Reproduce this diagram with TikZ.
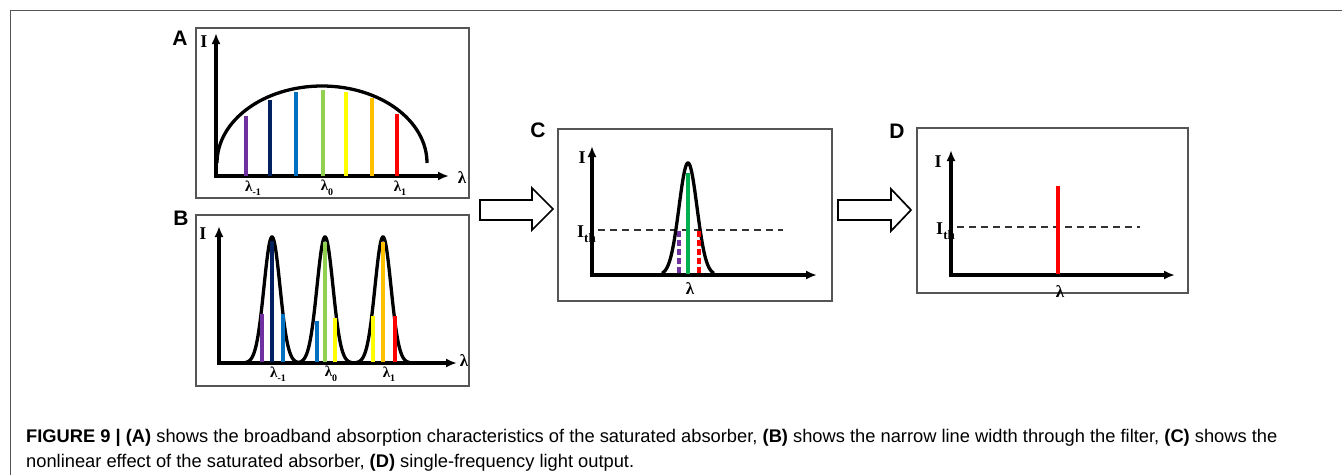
\documentclass[tikz,border=0pt]{standalone}
\usepackage{fontspec}
\setmainfont{Liberation Serif}
\newfontfamily\capfont{Liberation Sans}
\usetikzlibrary{arrows.meta}
\definecolor{cpurple}{HTML}{7030A0}
\definecolor{cnavy}{HTML}{002060}
\definecolor{cblue}{HTML}{0070C0}
\definecolor{cgreen}{HTML}{92D050}
\definecolor{cyellow}{HTML}{FFFF00}
\definecolor{corange}{HTML}{FFC000}
\definecolor{cred}{HTML}{FF0000}
\definecolor{cgreenC}{HTML}{00B050}
\definecolor{framegray}{HTML}{555555}
\newcommand{\lsub}[1]{\raisebox{-0.3em}{\fontsize{10}{10}\selectfont #1}}
\newcommand{\thsub}{\raisebox{-0.3em}{\fontsize{13}{13}\selectfont th}}
\begin{document}
\begin{tikzpicture}[x=1pt,y=-1pt,
  panel/.style={draw=framegray, line width=1.6pt},
  axes/.style={line width=3.6pt, line join=miter, {Latex[length=11pt,width=9pt]}-{Latex[length=11pt,width=9pt]}},
  curve/.style={line width=3.3pt, black},
  spec/.style={line width=3.6pt},
  dspec/.style={line width=3.2pt, dash pattern=on 6pt off 3pt},
  thr/.style={line width=1.8pt, black!80, dash pattern=on 7pt off 5pt},
  blockarrow/.style={draw=black, line width=1.7pt, fill=white, line join=miter},
  plab/.style={font=\capfont\bfseries\fontsize{21}{21}\selectfont, inner sep=0pt},
  alab/.style={font=\bfseries\fontsize{18}{18}\selectfont, inner sep=0pt},
  llab/.style={font=\bfseries\fontsize{15}{15}\selectfont, inner sep=0pt},
  xlab/.style={font=\bfseries\fontsize{17}{17}\selectfont, inner sep=0pt},
  caption/.style={font=\capfont\fontsize{18.3}{18.3}\selectfont, inner sep=0pt, anchor=base west}
]
\useasboundingbox (0,0) rectangle (1342,475);
% outer frame
\draw[framegray, line width=1pt] (10,475) -- (10,10) -- (1342,10);

% ---------- Panel A ----------
\node[plab] (labA) at (180,38) {A};
\draw[panel] (196,28) rectangle (469,198);
\coordinate (Aorig) at (216,176);
\coordinate (Atop) at (216,33);
\coordinate (Aright) at (449,176);
\draw[axes] (Atop) -- (Aorig) -- (Aright);
\node[alab] (AI) at (204,42) {I};
\node[xlab] (Alam) at (462,178) {λ};
\draw[curve] (217,163) arc[start angle=180, end angle=0, x radius=105pt, y radius=77pt];
\draw[spec, cpurple] (246,176) -- (246,116);
\draw[spec, cnavy]   (270,176) -- (270,100);
\draw[spec, cblue]   (296,176) -- (296,92);
\draw[spec, cgreen]  (323,176) -- (323,90);
\draw[spec, cyellow] (346,176) -- (346,92);
\draw[spec, corange] (372,176) -- (372,98);
\draw[spec, cred]    (397,176) -- (397,114);
\node[llab] (Al1) at (253,188) {λ\lsub{-1}};
\node[llab] (Al0) at (327,188) {λ\lsub{0}};
\node[llab] (Al2) at (400,188) {λ\lsub{1}};

% ---------- Panel B ----------
\node[plab] (labB) at (181,218) {B};
\draw[panel] (196,215) rectangle (469,386);
\coordinate (Borig) at (219,363);
\coordinate (Btop) at (219,226);
\coordinate (Bright) at (457,363);
\draw[axes] (Btop) -- (Borig) -- (Bright);
\node[alab] (BI) at (203,234) {I};
\node[xlab] (Blam) at (464,361) {λ};
\foreach \c in {272,325,383}{
  \draw[curve] plot[domain=-27:27, samples=80, smooth] ({\c+\x},{363-126*exp(-(\x*\x)/(2*64))});
}
\draw[spec, cpurple] (262,362) -- (262,314);
\draw[spec, cnavy]   (272,362) -- (272,241);
\draw[spec, cblue]   (283,362) -- (283,314);
\draw[spec, cblue]   (317,362) -- (317,321);
\draw[spec, cgreen]  (325,362) -- (325,242);
\draw[spec, cyellow] (335,362) -- (335,318);
\draw[spec, cyellow] (373,362) -- (373,316);
\draw[spec, corange] (383,362) -- (383,242);
\draw[spec, cred]    (395,362) -- (395,316);
\node[llab] (Bl1) at (278,374) {λ\lsub{-1}};
\node[llab] (Bl0) at (331,374) {λ\lsub{0}};
\node[llab] (Bl2) at (389,374) {λ\lsub{1}};

% ---------- Arrow 1 ----------
\draw[blockarrow] (480,200) -- (532,200) -- (532,188) -- (553,209) -- (532,230) -- (532,220) -- (480,220) -- cycle;

% ---------- Panel C ----------
\node[plab] (labC) at (538,130) {C};
\draw[panel] (558,129) rectangle (832,301);
\coordinate (Corig) at (592,275);
\coordinate (Ctop) at (592,146);
\coordinate (Cright) at (817,275);
\draw[axes] (Ctop) -- (Corig) -- (Cright);
\node[alab] (CI) at (582,158) {I};
\node[alab, anchor=east] (CIth) at (596,234) {I\thsub};
\draw[thr] (598,230) -- (783,230);
\draw[curve] plot[domain=-26:26, samples=80, smooth] ({688+\x},{275-112*exp(-(\x*\x)/(2*81))});
\draw[spec, cgreenC] (688,274) -- (688,173);
\draw[dspec, cpurple] (679,231) -- (679,274);
\draw[dspec, cred] (699,231) -- (699,274);
\node[xlab] (Clam) at (690,289) {λ};

% ---------- Arrow 2 ----------
\draw[blockarrow] (838,200) -- (891,200) -- (891,189) -- (911,210) -- (891,231) -- (891,220) -- (838,220) -- cycle;

% ---------- Panel D ----------
\node[plab] (labD) at (897,131) {D};
\draw[panel] (917,128) rectangle (1188,293);
\coordinate (Dorig) at (951,275);
\coordinate (Dtop) at (951,150);
\coordinate (Dright) at (1175,275);
\draw[axes] (Dtop) -- (Dorig) -- (Dright);
\node[alab] (DI) at (938,162) {I};
\node[alab, anchor=east] (DIth) at (955,231) {I\thsub};
\draw[thr] (957,227) -- (1140,227);
\draw[spec, cred] (1058,274) -- (1058,186);
\node[xlab] (Dlam) at (1060,292) {λ};

% ---------- Caption ----------
\node[caption] (cap1) at (26,442) {\textbf{FIGURE 9 | (A)} shows the broadband absorption characteristics of the saturated absorber, \textbf{(B)} shows the narrow line width through the filter, \textbf{(C)} shows the};
\node[caption] (cap2) at (26,467) {nonlinear effect of the saturated absorber, \textbf{(D)} single-frequency light output.};
\end{tikzpicture}
\end{document}
